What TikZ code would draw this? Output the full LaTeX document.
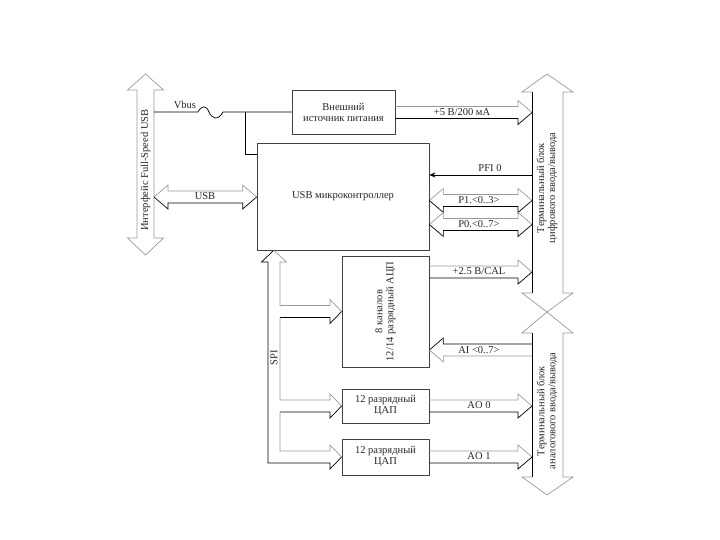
\documentclass[tikz,border=0pt]{standalone}
\usepackage{fontspec}
\setmainfont{Liberation Serif}
\usetikzlibrary{calc,arrows.meta}
\newcommand{\fatR}[3]{%
 \draw[hi] let \p1=(#1),\p2=(#2),\p3=(0,#3) in (\x1,\y3+6pt) -- (\x2-14pt,\y3+6pt) -- (\x2-14pt,\y3+12pt) -- (\x2,\y3);
 \draw[lo] let \p1=(#1),\p2=(#2),\p3=(0,#3) in (\x2,\y3) -- (\x2-14pt,\y3-12pt) -- (\x2-14pt,\y3-6pt) -- (\x1,\y3-6pt);}
\newcommand{\fatL}[3]{%
 \draw[lo] let \p1=(#1),\p2=(#2),\p3=(0,#3) in (\x1,\y3) -- (\x1+14pt,\y3+12pt) -- (\x1+14pt,\y3+6pt) -- (\x2,\y3+6pt);
 \draw[hi] let \p1=(#1),\p2=(#2),\p3=(0,#3) in (\x1,\y3) -- (\x1+14pt,\y3-12pt) -- (\x1+14pt,\y3-6pt) -- (\x2,\y3-6pt);}
\newcommand{\fatB}[3]{%
 \draw[hi] let \p1=(#1),\p2=(#2),\p3=(0,#3) in (\x1,\y3) -- (\x1+14pt,\y3+12pt) -- (\x1+14pt,\y3+6pt) -- (\x2-14pt,\y3+6pt) -- (\x2-14pt,\y3+12pt) -- (\x2,\y3);
 \draw[lo] let \p1=(#1),\p2=(#2),\p3=(0,#3) in (\x1,\y3) -- (\x1+14pt,\y3-12pt) -- (\x1+14pt,\y3-6pt) -- (\x2-14pt,\y3-6pt) -- (\x2-14pt,\y3-12pt) -- (\x2,\y3);}
\begin{document}
\begin{tikzpicture}[x=1pt,y=-1pt,
  font=\fontsize{10.5}{11}\selectfont,
  hi/.style={draw=black!40, line width=0.7pt},
  lo/.style={draw=black, line width=0.7pt},
  box/.style={draw=black!75, line width=0.7pt, inner sep=0pt, align=center, text=black!85},
  lbl/.style={inner sep=0pt, text=black!85, align=center}]
\useasboundingbox (0,0) rectangle (720,540);

% boxes
\node[box,minimum width=103,minimum height=44] (pwr) at (343.5,112) {Внешний\\источник питания};
\node[box,minimum width=172,minimum height=107] (mcu) at (343,196.5) {USB микроконтроллер};
\node[box,minimum width=87,minimum height=111] (adc) at (385.5,311.5) {};
\node[lbl,rotate=90] (adcl) at (adc.center) {8 каналов\\12/14 разрядный АЦП};
\node[box,minimum width=87,minimum height=34] (dac1) at (385.5,406) {12 разрядный\\ЦАП};
\node[box,minimum width=87,minimum height=36] (dac2) at (385.5,457) {12 разрядный\\ЦАП};

% buses
\coordinate (busL) at (154,0);
\coordinate (busR) at (532,0);
\draw[hi] (145.5,74) -- (163.5,90) -- (154,90) -- (154,238) -- (163.5,238) -- (145.5,255) -- (127.5,238) -- (137,238) -- (137,90) -- (127.5,90) -- cycle;
\node[lbl,rotate=90] (usbif) at (145.5,170) {Интерфейс Full-Speed USB};

\draw[hi] (532,92) -- (522,92) -- (547,74) -- (573,92) -- (563,92) -- (563,293) -- (573,293) -- (547,312) -- (522,293) -- (532,293);
\draw[lo] (532,92) -- (532,293);
\node[lbl,rotate=90] (digl) at (547,188) {Терминальный блок\\цифрового ввода/вывода};

\draw[hi] (532,333) -- (522,333) -- (547,312) -- (573,333) -- (563,333) -- (563,477) -- (573,477) -- (547,495) -- (522,477) -- (532,477);
\draw[lo] (532,333) -- (532,477);
\node[lbl,rotate=90] (anl) at (547,411) {Терминальный блок\\аналогового ввода/вывода};

% Vbus
\coordinate (vbL) at (154,112);
\draw[lo] (vbL) -- (198,112) .. controls (202,105) and (206,105) .. (209,112)
  .. controls (212,119) and (218,121) .. (223,112) -- (pwr.west);
\node[lbl] (vbus) at (185,104.5) {Vbus};
\coordinate (vbB) at (245,112);
\coordinate (vbC) at (245,154);
\draw[lo] (vbB) -- (vbC) -- (vbC -| mcu.west);

% USB
\fatB{busL}{mcu.west}{197}
\node[lbl] (usbl) at (205,196.5) {USB};

% power
\fatR{pwr.east}{busR}{112.5}
\node[lbl] (p5l) at (462,112.5) {+5 В/200 мА};

% PFI
\coordinate (pfi) at (532,175);
\draw[lo,-{Stealth[length=6pt,width=5pt]}] (pfi) -- (pfi -| mcu.east);
\node[lbl] (pfil) at (490,168.5) {PFI 0};

\fatB{mcu.east}{busR}{200.5}
\node[lbl] (p1l) at (479,200.5) {P1.<0..3>};
\fatB{mcu.east}{busR}{224.5}
\node[lbl] (p0l) at (479,224.5) {P0.<0..7>};

% ADC / DAC outputs
\fatR{adc.east}{busR}{272}
\node[lbl] (call) at (479,271.5) {+2.5 В/CAL};
\fatL{adc.east}{busR}{350}
\node[lbl] (ail) at (479,350) {AI <0..7>};
\fatR{dac1.east}{busR}{406}
\node[lbl] (ao0) at (479,405.5) {AO 0};
\fatR{dac2.east}{busR}{457}
\node[lbl] (ao1) at (479,456.5) {AO 1};

% SPI tree
\coordinate (spitip) at ($(mcu.south west)+(17,0)$);
\draw[lo] (spitip) -- (261.5,262) -- (268,262) -- (268,463) -- (330,463) -- (330,469) -- (dac2.west);
\draw[hi] (spitip) -- (286.5,262) -- (280,262) -- (280,305.5) -- (330,305.5) -- (330,299.5) -- (adc.west);
\draw[lo] (adc.west) -- (330,323.5) -- (330,317.5) -- (280,317.5);
\draw[hi] (280,317.5) -- (280,400) -- (330,400) -- (330,394) -- (dac1.west);
\draw[lo] (dac1.west) -- (330,418) -- (330,412) -- (280,412);
\draw[hi] (280,412) -- (280,451) -- (330,451) -- (330,445) -- (dac2.west);
\node[lbl,rotate=90] (spil) at (274,358) {SPI};
\end{tikzpicture}
\end{document}
